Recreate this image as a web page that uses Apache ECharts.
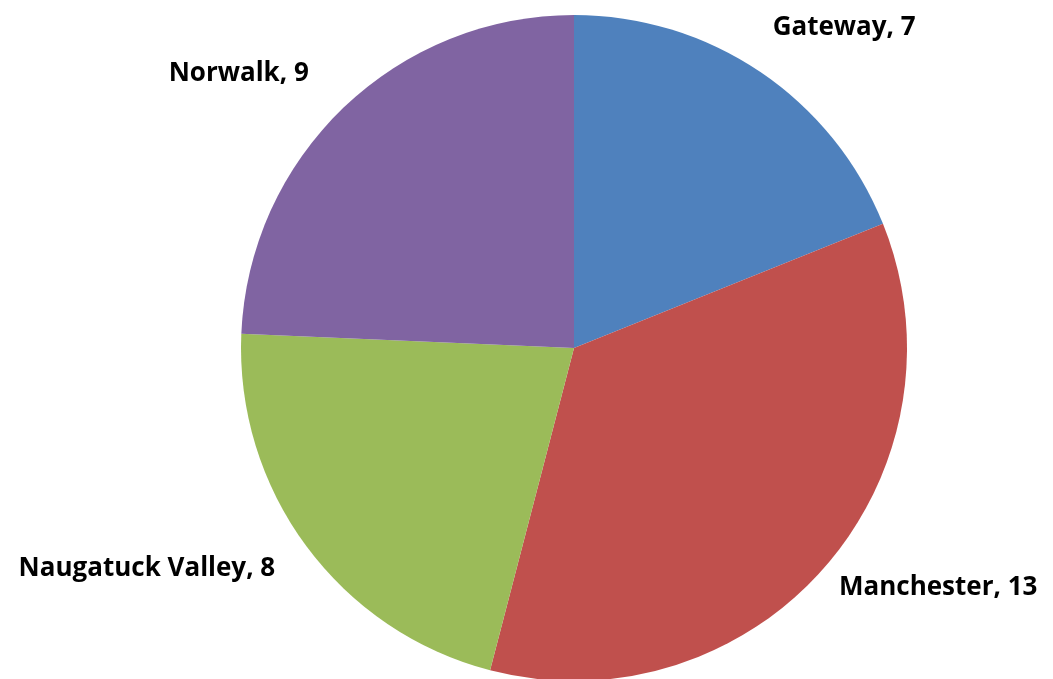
<!DOCTYPE html>
<html>
<head>
<meta charset="UTF-8">
<title>Pie</title>
<script src="https://cdn.jsdelivr.net/npm/echarts@6/dist/echarts.min.js"></script>
<style>
html, body { margin: 0; padding: 0; background: #fff; }
#main { width: 1053px; height: 679px; }
</style>
</head>
<body>
<div id="main"></div>
<script type="text/javascript">
// data
var regions = ['Gateway', 'Manchester', 'Naugatuck Valley', 'Norwalk'];
var counts = [7, 13, 8, 9];
var colors = ['#4F81BD', '#C0504D', '#9BBB59', '#8064A2'];

// nudges so the labels sit where the original (Excel "best fit") put them
var labelNudge = [[-14, -28], [-15, 6], [0, 11], [-6, -20]];

var myChart = echarts.init(document.getElementById('main'));

var data = regions.map(function (name, i) {
    return { name: name, value: counts[i], itemStyle: { color: colors[i] } };
});

var option = {
    animation: false,
    series: [
        {
            type: 'pie',
            center: [574, 348],
            radius: 333,
            startAngle: 90,
            clockwise: true,
            itemStyle: { borderWidth: 0 },
            label: {
                show: true,
                position: 'outside',
                formatter: '{b}, {c}',
                fontFamily: 'Open Sans',
                fontWeight: 'bold',
                fontSize: 26,
                color: '#000',
                overflow: 'none',
                edgeDistance: 0
            },
            labelLine: { show: false, length: 20, length2: 10 },
            labelLayout: function (params) {
                var n = labelNudge[params.dataIndex];
                return { dx: n[0], dy: n[1] };
            },
            data: data
        }
    ]
};

myChart.setOption(option);
</script>
</body>
</html>
